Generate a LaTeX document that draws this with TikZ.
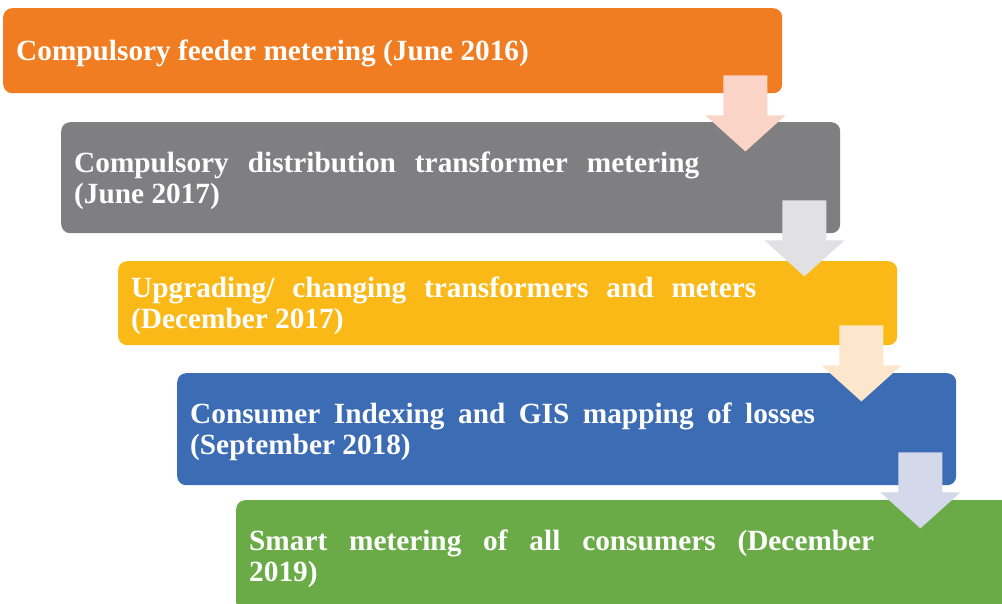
\documentclass[tikz,border=0pt]{standalone}
\usepackage{fontspec}
\setmainfont{Liberation Serif}
\usetikzlibrary{positioning,calc}
\tolerance=10000
\hbadness=10000

\definecolor{stepA}{HTML}{F07D22}
\definecolor{stepB}{HTML}{7F7F82}
\definecolor{stepC}{HTML}{FBB918}
\definecolor{stepD}{HTML}{3C6CB4}
\definecolor{stepE}{HTML}{6AAB47}
\definecolor{arrA}{HTML}{FAD5C7}
\definecolor{arrB}{HTML}{E1E1E3}
\definecolor{arrC}{HTML}{FCE6CC}
\definecolor{arrD}{HTML}{D3D8EA}

\begin{document}
\begin{tikzpicture}[
  x=1pt, y=-1pt,
  bx/.style={rectangle,rounded corners=9pt,inner sep=0pt,anchor=north west,
    minimum width=779pt},
  tx/.style={text width=625pt,align=justify,inner sep=0pt,text=white,
    yshift=-3pt,font=\fontsize{29.3}{31}\selectfont\bfseries},
  dnarrow/.pic={\path[pic actions] (-22,0) -- (22,0) -- (22,40) -- (40,40)
    -- (0,76) -- (-40,40) -- (-22,40) -- cycle;}
]
\useasboundingbox (0,0) rectangle (1002,604);

\node[bx,fill=stepA,minimum height=85pt]  (b1) at (3,8) {};
\node[bx,fill=stepB,minimum height=111pt] (b2) at (61,122) {};
\node[bx,fill=stepC,minimum height=84pt]  (b3) at (118,261) {};
\node[bx,fill=stepD,minimum height=112pt] (b4) at (177,373) {};
\node[bx,fill=stepE,minimum height=111pt] (b5) at (236,500) {};

\pic[fill=arrA] at ($(b1.south east)+(-37,-18)$) {dnarrow};
\pic[fill=arrB] at ($(b2.south east)+(-36,-33)$) {dnarrow};
\pic[fill=arrC] at ($(b3.south east)+(-36,-20)$) {dnarrow};
\pic[fill=arrD] at ($(b4.south east)+(-36,-33)$) {dnarrow};

\node[tx,right=13pt of b1.west] (t1) {Compulsory feeder metering (June 2016)};
\node[tx,right=13pt of b2.west] (t2) {Compulsory distribution transformer metering\linebreak (June 2017)};
\node[tx,right=13pt of b3.west] (t3) {Upgrading/ changing transformers and meters\linebreak (December 2017)};
\node[tx,right=13pt of b4.west] (t4) {Consumer Indexing and GIS mapping of losses\linebreak (September 2018)};
\node[tx,right=13pt of b5.west] (t5) {Smart metering of all consumers (December\linebreak 2019)};
\end{tikzpicture}
\end{document}
